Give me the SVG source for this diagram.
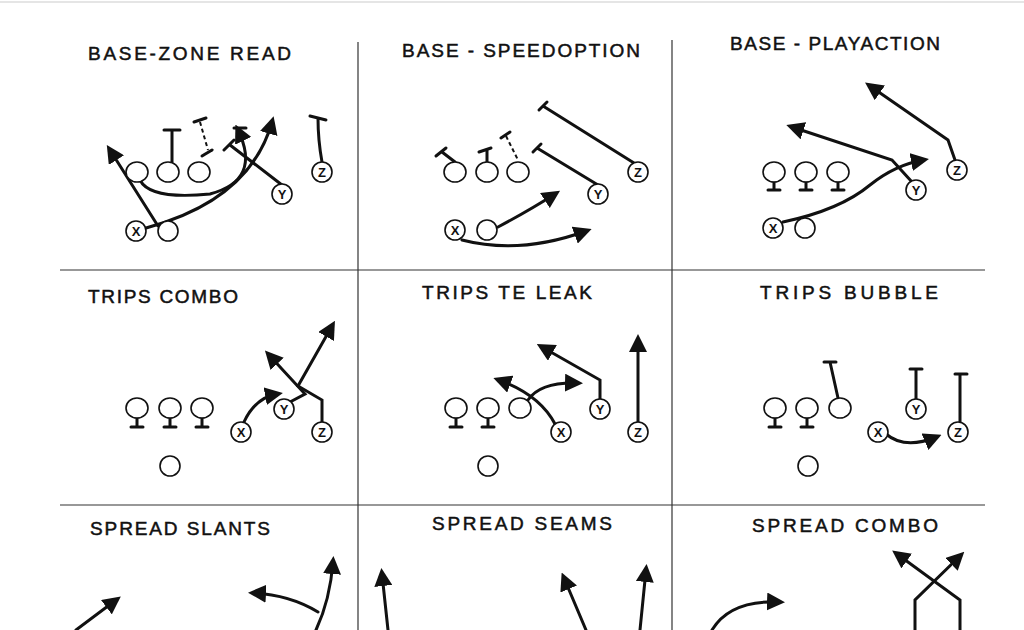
<svg xmlns="http://www.w3.org/2000/svg" width="1024" height="630" viewBox="0 0 1024 630">
<defs>
<marker id="ah" markerWidth="6" markerHeight="6" refX="4" refY="3" orient="auto" markerUnits="strokeWidth"><path d="M0,0 L6,3 L0,6 Z" fill="#111"/></marker>
<style>
.t{font-family:"Liberation Sans",Arial,sans-serif;font-size:19px;fill:#111;letter-spacing:2px;stroke:#111;stroke-width:0.5}
.o{fill:#fff;stroke:#111;stroke-width:1.6}
.p{font-family:"Liberation Sans",Arial,sans-serif;font-size:13px;font-weight:bold;text-anchor:middle;fill:#111}
.r{fill:none;stroke:#111;stroke-width:3;stroke-linecap:round}
.a{fill:none;stroke:#111;stroke-width:3;stroke-linecap:round;marker-end:url(#ah)}
.d{fill:none;stroke:#111;stroke-width:2;stroke-dasharray:4 3}
.g{stroke:#333;stroke-width:1.2}
</style>
</defs>
<rect width="1024" height="630" fill="#fff"/>
<g id="grid" class="g">
<line x1="0" y1="2" x2="1024" y2="2" stroke="#ccc"/>
<line x1="358" y1="42" x2="358" y2="630"/>
<line x1="672" y1="40" x2="672" y2="630"/>
<line x1="60" y1="270" x2="985" y2="270"/>
<line x1="60" y1="505" x2="985" y2="505"/>
</g>
<g id="titles">
<text class="t" x="88" y="60" textLength="205">BASE-ZONE READ</text>
<text class="t" x="402" y="57" textLength="240">BASE - SPEEDOPTION</text>
<text class="t" x="730" y="50" textLength="212">BASE - PLAYACTION</text>
<text class="t" x="88" y="303" textLength="152">TRIPS COMBO</text>
<text class="t" x="422" y="299" textLength="172">TRIPS TE LEAK</text>
<text class="t" x="760" y="299" textLength="180">TRIPS BUBBLE</text>
<text class="t" x="90" y="535" textLength="182">SPREAD SLANTS</text>
<text class="t" x="432" y="530" textLength="182">SPREAD SEAMS</text>
<text class="t" x="752" y="532" textLength="188">SPREAD COMBO</text>
</g>
<g id="connectors">
<path class="r" d="M172,162 V130 M164,130 H180"/>
<path class="d" d="M200,122 L208,150"/><path class="r" d="M194,122 L206,118"/>
<path class="r" d="M202,156 L212,150"/>
<path class="r" d="M282,185 L230,145 M224,150 L234,140"/>
<path class="r" d="M234,128 H246"/>
<path class="r" d="M322,162 Q318,140 318,118 M310,116 L326,120"/>
<path class="a" d="M158,226 L110,150"/>
<path class="a" d="M140,180 Q150,200 210,194 Q262,180 238,130"/>
<path class="a" d="M146,228 Q250,200 272,122"/>
<path class="r" d="M455,162 L442,152 M436,156 L446,148"/>
<path class="r" d="M487,162 V150 M479,152 L491,148"/>
<path class="d" d="M506,136 L518,160"/><path class="r" d="M501,138 L510,132"/>
<path class="r" d="M598,185 L537,148 M533,152 L541,144"/>
<path class="r" d="M634,163 L543,106 M539,110 L547,102"/>
<path class="a" d="M498,227 Q530,210 555,194"/>
<path class="a" d="M462,240 Q520,255 586,231"/>
<path class="r" d="M774,182 V190 M768,190 H780 M806,182 V190 M800,190 H812 M838,182 V190 M832,190 H844"/>
<path class="a" d="M955,160 L948,140 L870,86"/>
<path class="a" d="M912,182 L892,160 L792,127"/>
<path class="a" d="M783,222 Q840,210 870,185 Q895,165 923,160"/>
<path class="r" d="M137,418 V427 M131,427 H143 M170,418 V427 M164,427 H176 M202,418 V427 M196,427 H208"/>
<path class="a" d="M244,422 Q255,398 277,394"/>
<path class="a" d="M290,402 L305,394 L269,355"/>
<path class="a" d="M322,422 V400 L298,386 L332,326"/>
<path class="r" d="M456,418 V427 M450,427 H462 M488,418 V427 M482,427 H494"/>
<path class="a" d="M638,422 V340"/>
<path class="a" d="M600,400 V380 L542,347"/>
<path class="a" d="M555,424 Q540,395 499,380"/>
<path class="a" d="M528,400 Q540,382 577,383"/>
<path class="r" d="M775,418 V427 M769,427 H781 M807,418 V427 M801,427 H813"/>
<path class="r" d="M838,398 L830,362 M824,362 H836"/>
<path class="r" d="M916,400 V369 M910,369 H922"/>
<path class="r" d="M960,423 V374 M955,374 H967"/>
<path class="a" d="M886,434 Q905,450 936,437"/>
<path class="a" d="M76,630 L116,600"/>
<path class="a" d="M316,630 Q330,600 333,562"/>
<path class="a" d="M318,612 Q290,595 254,593"/>
<path class="a" d="M388,630 L382,574"/>
<path class="a" d="M586,630 L564,578"/>
<path class="a" d="M640,630 L646,570"/>
<path class="a" d="M712,630 Q730,600 779,602"/>
<path class="a" d="M915,630 V600 L960,556"/>
<path class="a" d="M960,630 V600 L897,554"/>
</g>
<g id="players">
<ellipse class="o" cx="137" cy="172" rx="11" ry="10"/><ellipse class="o" cx="168" cy="172" rx="11" ry="10"/><ellipse class="o" cx="199" cy="172" rx="11" ry="10"/>
<ellipse class="o" cx="168" cy="231" rx="10" ry="10"/>
<circle class="o" cx="136" cy="231" r="10"/><text class="p" x="136" y="236">X</text>
<circle class="o" cx="282" cy="194" r="10"/><text class="p" x="282" y="199">Y</text>
<circle class="o" cx="322" cy="172" r="10"/><text class="p" x="322" y="177">Z</text>
<ellipse class="o" cx="455" cy="172" rx="11" ry="10"/><ellipse class="o" cx="487" cy="172" rx="11" ry="10"/><ellipse class="o" cx="518" cy="172" rx="11" ry="10"/>
<ellipse class="o" cx="487" cy="230" rx="10" ry="10"/>
<circle class="o" cx="455" cy="230" r="10"/><text class="p" x="455" y="235">X</text>
<circle class="o" cx="598" cy="194" r="10"/><text class="p" x="598" y="199">Y</text>
<circle class="o" cx="638" cy="172" r="10"/><text class="p" x="638" y="177">Z</text>
<ellipse class="o" cx="774" cy="172" rx="11" ry="10"/><ellipse class="o" cx="806" cy="172" rx="11" ry="10"/><ellipse class="o" cx="838" cy="172" rx="11" ry="10"/>
<ellipse class="o" cx="805" cy="228" rx="10" ry="10"/>
<circle class="o" cx="773" cy="228" r="10"/><text class="p" x="773" y="233">X</text>
<circle class="o" cx="916" cy="190" r="10"/><text class="p" x="916" y="195">Y</text>
<circle class="o" cx="957" cy="170" r="10"/><text class="p" x="957" y="175">Z</text>
<ellipse class="o" cx="137" cy="408" rx="11" ry="10"/><ellipse class="o" cx="170" cy="408" rx="11" ry="10"/><ellipse class="o" cx="202" cy="408" rx="11" ry="10"/>
<ellipse class="o" cx="170" cy="466" rx="10" ry="10"/>
<circle class="o" cx="241" cy="432" r="10"/><text class="p" x="241" y="437">X</text>
<circle class="o" cx="284" cy="409" r="10"/><text class="p" x="284" y="414">Y</text>
<circle class="o" cx="322" cy="432" r="10"/><text class="p" x="322" y="437">Z</text>
<ellipse class="o" cx="456" cy="408" rx="11" ry="10"/><ellipse class="o" cx="488" cy="408" rx="11" ry="10"/><ellipse class="o" cx="520" cy="408" rx="11" ry="10"/>
<ellipse class="o" cx="488" cy="466" rx="10" ry="10"/>
<circle class="o" cx="561" cy="432" r="10"/><text class="p" x="561" y="437">X</text>
<circle class="o" cx="600" cy="409" r="10"/><text class="p" x="600" y="414">Y</text>
<circle class="o" cx="638" cy="432" r="10"/><text class="p" x="638" y="437">Z</text>
<ellipse class="o" cx="775" cy="408" rx="11" ry="10"/><ellipse class="o" cx="807" cy="408" rx="11" ry="10"/><ellipse class="o" cx="840" cy="408" rx="11" ry="10"/>
<ellipse class="o" cx="808" cy="466" rx="10" ry="10"/>
<circle class="o" cx="878" cy="432" r="10"/><text class="p" x="878" y="437">X</text>
<circle class="o" cx="916" cy="409" r="10"/><text class="p" x="916" y="414">Y</text>
<circle class="o" cx="958" cy="432" r="10"/><text class="p" x="958" y="437">Z</text>
</g>
</svg>
